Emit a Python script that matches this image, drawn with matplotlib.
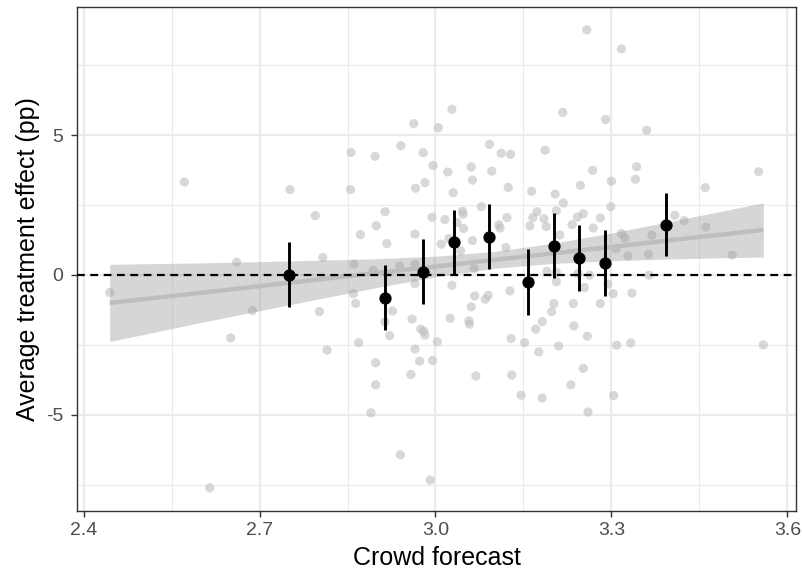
"""
Crowd forecast vs. average treatment effect — scatter, fitted line, binned estimates.
"""

import matplotlib
matplotlib.use("Agg")
import matplotlib.pyplot as plt
from matplotlib.ticker import MultipleLocator
import numpy as np

INK      = "#000000"
INK_3    = "#4D4D4D"
BORDER   = "#333333"
GRID     = "#EBEBEB"
DOT      = "#BEBEBE"
BAND     = "#999999"

CHART_STYLE = {
    "figure.facecolor": "white",
    "axes.facecolor":   "white",
    "font.family":      ["Liberation Sans", "DejaVu Sans"],
    "font.size":        14,
}

# individual forecasts (grey dots)
crowd_x = [2.4445, 2.572, 2.615, 2.651, 2.661, 2.688, 2.752, 2.795, 2.802, 2.808,
           2.815, 2.855, 2.856, 2.860, 2.861, 2.864, 2.869, 2.872, 2.890, 2.894,
           2.897, 2.898, 2.898, 2.899, 2.914, 2.914, 2.917, 2.922, 2.927, 2.939,
           2.940, 2.941, 2.958, 2.960, 2.963, 2.965, 2.965, 2.965, 2.965, 2.966,
           2.973, 2.975, 2.979, 2.980, 2.982, 2.982, 2.991, 2.994, 2.995, 2.996,
           3.003, 3.005, 3.010, 3.016, 3.021, 3.023, 3.025, 3.028, 3.028, 3.030,
           3.037, 3.043, 3.046, 3.047, 3.048, 3.057, 3.058, 3.061, 3.061, 3.063,
           3.063, 3.066, 3.067, 3.069, 3.078, 3.085, 3.090, 3.092, 3.096, 3.108,
           3.110, 3.112, 3.120, 3.122, 3.124, 3.127, 3.128, 3.129, 3.130, 3.146,
           3.152, 3.161, 3.164, 3.166, 3.171, 3.173, 3.176, 3.182, 3.182, 3.185,
           3.187, 3.189, 3.190, 3.198, 3.202, 3.204, 3.206, 3.206, 3.206, 3.210,
           3.212, 3.217, 3.218, 3.231, 3.233, 3.235, 3.236, 3.242, 3.243, 3.247,
           3.252, 3.252, 3.254, 3.258, 3.259, 3.260, 3.263, 3.268, 3.269, 3.281,
           3.281, 3.290, 3.294, 3.299, 3.300, 3.303, 3.304, 3.308, 3.309, 3.317,
           3.317, 3.323, 3.328, 3.333, 3.335, 3.341, 3.343, 3.360, 3.363, 3.364,
           3.369, 3.408, 3.424, 3.460, 3.461, 3.506, 3.551, 3.559]
effect_y = [-0.63, 3.32, -7.61, -2.25, 0.46, -1.27, 3.05, 2.12, -1.31, 0.62,
            -2.69, 3.05, 4.38, -0.67, 0.38, -1.02, -2.42, 1.44, -4.93, 0.16,
            4.24, -3.14, -3.93, 1.76, 2.26, -1.68, 1.12, -2.17, -1.29, 0.32,
            -6.43, 4.62, -3.56, -1.58, 5.41, 1.46, 0.38, -0.31, -2.65, 3.10,
            -3.08, -1.94, 4.37, -2.01, 3.30, -2.15, -7.33, 2.06, -3.06, 3.91,
            -2.39, 5.26, 1.10, 1.98, 3.68, 1.30, -1.55, 5.92, -0.37, 2.94,
            1.87, 0.86, 2.28, 2.17, 1.66, -1.64, -1.76, -1.14, 3.86, 3.39,
            1.23, 0.23, -0.75, -3.61, 2.44, -0.87, -0.73, 4.67, 3.71, 1.79,
            1.68, 4.35, 0.98, 2.05, 3.13, -0.57, 4.31, -2.27, -3.58, -4.30,
            -2.42, 1.75, 2.99, 2.05, -1.94, 2.26, -2.75, -1.67, -4.40, 2.01,
            4.46, 1.73, 0.13, -1.31, -1.02, 2.89, 2.29, -0.24, 0.09, -2.54,
            1.43, 5.81, 2.57, -3.93, 1.80, -1.02, -1.82, 2.07, 0.05, 3.20,
            2.19, -3.34, -0.45, 8.76, -2.19, -4.90, -0.01, 3.74, 1.68, 2.04,
            -1.02, 5.56, -0.33, 2.44, 3.35, -0.67, -4.31, 0.94, -2.51, 8.08,
            1.48, 1.32, 0.68, -2.43, -0.65, 3.42, 3.87, 5.17, 0.74, -0.01,
            1.42, 2.13, 1.94, 3.12, 1.71, 0.71, 3.69, -2.50]

# linear fit with 95% band
fit_x  = [2.4445, 2.60, 2.75, 2.90, 3.00, 3.10, 3.20, 3.30, 3.40, 3.50, 3.559]
fit_y  = [-1.00, -0.64, -0.28, 0.07, 0.30, 0.54, 0.77, 1.00, 1.24, 1.47, 1.61]
fit_lo = [-2.38, -1.70, -1.07, -0.45, -0.07, 0.24, 0.41, 0.51, 0.57, 0.62, 0.64]
fit_hi = [0.38, 0.43, 0.50, 0.58, 0.67, 0.84, 1.13, 1.50, 1.91, 2.33, 2.58]

# binned estimates with CIs (black)
bin_x  = [2.751, 2.914, 2.978, 3.031, 3.091, 3.157, 3.202, 3.245, 3.289, 3.393]
bin_y  = [0.00, -0.81, 0.11, 1.16, 1.37, -0.27, 1.04, 0.60, 0.42, 1.79]
bin_lo = [-1.16, -1.98, -1.05, 0.00, 0.20, -1.43, -0.11, -0.57, -0.75, 0.66]
bin_hi = [1.16, 0.36, 1.28, 2.32, 2.55, 0.92, 2.20, 1.77, 1.60, 2.94]

x_ticks = [2.4, 2.7, 3.0, 3.3, 3.6]
x_tick_labels = ["2.4", "2.7", "3.0", "3.3", "3.6"]
y_ticks = [-5, 0, 5]
y_tick_labels = ["-5", "0", "5"]


def expand(vals, frac=0.05):
    lo, hi = min(vals), max(vals)
    pad = (hi - lo) * frac
    return lo - pad, hi + pad


def chart_effect(path="out.png"):
    with plt.rc_context(CHART_STYLE):
        fig = plt.figure(figsize=(8.03, 5.70), dpi=100)
        ax = fig.add_axes([77 / 803, 59.3 / 570, 719 / 803, 503.7 / 570])

        ax.scatter(crowd_x, effect_y, s=44, color=DOT, alpha=0.6,
                   edgecolors="none", zorder=2)
        ax.fill_between(fit_x, fit_lo, fit_hi, color=BAND, alpha=0.4,
                        linewidth=0, zorder=3)
        ax.plot(fit_x, fit_y, color=DOT, linewidth=3.2, zorder=4,
                solid_capstyle="butt")
        ax.axhline(0, color=INK, linewidth=1.6, dashes=(3.5, 2.5), zorder=5)

        bx = np.array(bin_x)
        by = np.array(bin_y)
        yerr = [by - np.array(bin_lo), np.array(bin_hi) - by]
        ax.errorbar(bx, by, yerr=yerr, fmt="o", color=INK, markersize=7.8,
                    elinewidth=2.1, capsize=0, zorder=6)

        ax.set_xlim(*expand(crowd_x))
        ax.set_ylim(*expand(effect_y))

        ax.set_xticks(x_ticks)
        ax.set_xticklabels(x_tick_labels)
        ax.set_yticks(y_ticks)
        ax.set_yticklabels(y_tick_labels)
        ax.xaxis.set_minor_locator(MultipleLocator(0.15))
        ax.yaxis.set_minor_locator(MultipleLocator(2.5))
        ax.tick_params(axis="x", which="major", length=4, width=1.0,
                       color=BORDER, labelcolor=INK_3, labelsize=14, pad=4)
        ax.tick_params(axis="y", which="major", length=4, width=1.0,
                       color=BORDER, labelcolor=INK_3, labelsize=14, pad=6)
        ax.tick_params(axis="both", which="minor", length=0)

        ax.grid(True, which="major", color=GRID, linewidth=1.6, zorder=0)
        ax.grid(True, which="minor", color=GRID, linewidth=0.8, zorder=0)
        ax.set_axisbelow(True)
        for sp in ax.spines.values():
            sp.set_color(BORDER)
            sp.set_linewidth(1.0)

        ax.set_xlabel("Crowd forecast", fontsize=18, color=INK, labelpad=5)
        ax.set_ylabel("Average treatment effect (pp)", fontsize=18,
                      color=INK, labelpad=4)

        fig.savefig(path, dpi=100, facecolor="white")
        plt.close(fig)
    return path


if __name__ == "__main__":
    chart_effect()
